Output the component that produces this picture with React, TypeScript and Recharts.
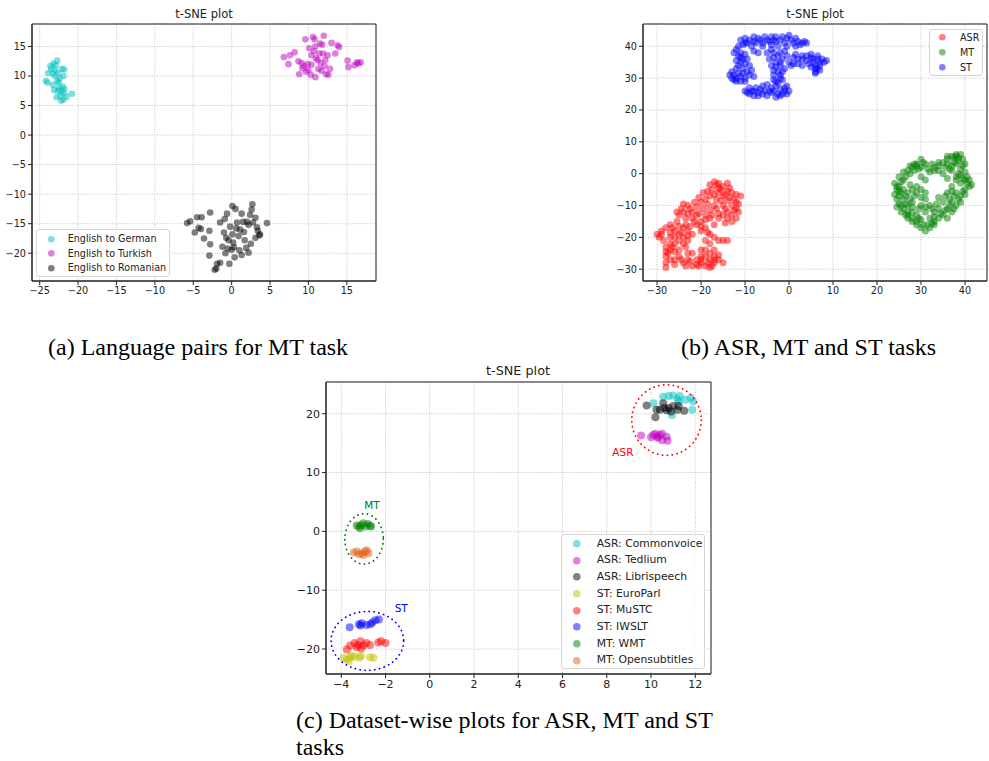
import React from "react";
import {
  ScatterChart,
  Scatter,
  XAxis,
  YAxis,
  CartesianGrid,
  ReferenceArea,
  ReferenceDot,
  Legend,
} from "recharts";

type Pt = [number, number];

// ---------- (a) language pairs ----------
const langTicksX = [-25, -20, -15, -10, -5, 0, 5, 10, 15];
const langTicksY = [-20, -15, -10, -5, 0, 5, 10, 15];
const langDomainX: [number, number] = [-26.0, 18.8];
const langDomainY: [number, number] = [-24.7, 18.8];

const enDe: Pt[] = [
  [-22.7, 12.6], [-23.2, 12.1], [-23.6, 11.7], [-22.9, 11.8], [-23.5, 11.2], [-22.1, 11.2],
  [-21.8, 11.1], [-23.0, 11.0], [-23.9, 10.5], [-23.3, 10.4], [-22.6, 10.5], [-21.9, 10.0],
  [-24.2, 9.2], [-24.0, 8.9], [-22.7, 9.2], [-22.5, 8.9], [-23.3, 8.5], [-22.5, 8.0],
  [-22.0, 8.2], [-21.8, 7.8], [-22.6, 7.5], [-23.1, 7.6], [-22.2, 7.4], [-21.9, 7.1],
  [-20.8, 7.0], [-22.3, 6.6], [-21.5, 6.5], [-22.8, 6.4], [-21.9, 6.0], [-22.2, 5.8],
  [-23.0, 10.0], [-22.4, 9.6],
];
const enTr: Pt[] = [
  [6.8, 13.2], [7.4, 12.0], [7.6, 13.5], [8.2, 14.0], [8.7, 12.5], [8.8, 10.3], [9.1, 12.2],
  [9.4, 11.7], [9.6, 16.2], [9.7, 10.7], [9.9, 12.0], [10.1, 14.7], [10.3, 10.2], [10.4, 11.9],
  [10.4, 13.5], [10.6, 16.6], [10.8, 16.2], [10.9, 15.0], [10.9, 9.8], [11.0, 13.0], [11.2, 12.7],
  [11.4, 13.8], [11.5, 15.5], [11.6, 12.2], [11.7, 10.9], [11.9, 13.8], [12.0, 16.8], [12.1, 11.7],
  [12.3, 10.3], [12.5, 13.5], [12.6, 10.2], [12.8, 11.2], [13.0, 15.6], [13.5, 13.8], [13.8, 15.2],
  [14.0, 14.9], [15.1, 12.6], [15.2, 11.5], [16.0, 11.8], [16.3, 12.3], [16.5, 12.1], [16.8, 12.3],
  [10.0, 11.0], [11.3, 11.2], [12.2, 12.7], [9.2, 11.3], [10.7, 14.2], [11.8, 15.3],
];
const enRo: Pt[] = [
  [-5.8, -14.9], [-5.4, -14.6], [-4.8, -16.5], [-4.5, -13.9], [-4.3, -15.7], [-4.0, -15.9],
  [-3.9, -13.9], [-3.6, -17.5], [-2.8, -13.1], [-2.9, -16.2], [-2.8, -18.5], [-2.9, -20.4],
  [-2.0, -22.6], [-1.5, -21.6], [-1.2, -18.9], [-1.5, -14.8], [-1.0, -16.5], [-0.9, -14.2],
  [-0.8, -20.0], [-0.7, -17.4], [-0.6, -13.3], [-0.5, -19.2], [-0.3, -21.8], [-0.2, -15.5],
  [0.1, -12.0], [0.1, -16.8], [0.2, -18.2], [0.3, -19.0], [0.5, -12.5], [0.4, -20.7],
  [0.6, -15.8], [0.7, -14.8], [0.9, -17.1], [1.0, -19.5], [1.1, -16.0], [1.3, -13.3],
  [1.3, -20.3], [1.5, -14.7], [1.7, -17.8], [1.9, -19.1], [2.0, -14.7], [2.2, -15.2],
  [2.2, -19.9], [2.4, -13.5], [2.5, -18.4], [2.6, -12.6], [2.7, -11.7], [2.8, -14.8],
  [3.1, -14.0], [3.1, -17.4], [3.3, -15.6], [3.4, -16.2], [3.6, -17.0], [3.7, -16.8],
  [4.6, -14.9], [-2.2, -22.8], [-0.4, -17.8], [1.6, -16.4], [-1.9, -21.8], [0.0, -19.4],
];

// ---------- (b) tasks ----------
const taskTicksX = [-30, -20, -10, 0, 10, 20, 30, 40];
const taskTicksY = [-30, -20, -10, 0, 10, 20, 30, 40];
const taskDomainX: [number, number] = [-33.2, 45.0];
const taskDomainY: [number, number] = [-33.7, 47.0];

const asrTask: Pt[] = [
  [-17, -2.5], [-16, -3], [-18, -3.5], [-15, -4], [-17.5, -5], [-14, -5.5], [-16, -6], [-13, -6],
  [-15, -7], [-11, -7], [-12.5, -8], [-14, -8.5], [-16.5, -8], [-18, -7], [-19, -8], [-20, -9],
  [-13, -10], [-15, -10], [-17, -10], [-12, -11], [-11.5, -12], [-14, -12], [-16, -12.5], [-18, -11.5],
  [-19.5, -11], [-21, -10.5], [-22, -12], [-23, -10], [-24, -12], [-25, -13], [-24, -9.5], [-22.5, -11],
  [-14, -14], [-16, -14], [-18, -14], [-20, -15], [-17, -16], [-13, -15], [-15, -21], [-14, -21],
  [-19, -21], [-18, -22], [-19, -24], [-17, -26], [-16, -27], [-17, -28], [-18, -27], [-19, -29],
  [-20, -28], [-21, -27], [-22, -25], [-23, -27], [-22, -29], [-24, -28], [-25, -26], [-26, -27],
  [-27, -24], [-28, -23], [-28, -26], [-28, -28], [-28, -29.5], [-27, -20], [-26, -18], [-25, -19],
  [-24, -17], [-23, -18], [-24, -20], [-25, -21], [-26, -22], [-28, -17], [-29, -18], [-30, -19],
  [-29.5, -20], [-27, -16], [-25, -16.5], [-23, -19.5], [-21, -16], [-20, -18], [-20, -24],
  [-25, -24], [-23, -25], [-27, -18.5], [-24, -22], [-26, -20], [-19, -17], [-18, -19],
  [-20, -26], [-15, -28], [-17, -24], [-22, -14], [-19, -13], [-13, -13], [-12, -9], [-16, -4.5],
  [-14.5, -6.5], [-18.5, -5.5], [-21, -13], [-26, -24.5], [-20.5, -29], [-18, -29.5], [-23.5, -23],
  [-16.5, -3.5], [-15.5, -5], [-13.5, -4.5], [-12, -6.5], [-11.5, -9.5], [-13.5, -7.5], [-15.5, -8.5],
  [-17, -6.5], [-18.5, -9.5], [-20.5, -7.5], [-21.5, -9], [-12.5, -11.5], [-14.5, -11], [-16.5, -11],
  [-17.5, -13], [-15, -13], [-12, -14], [-14.5, -15.5], [-19, -14.5], [-20.5, -12.5], [-23, -12.5],
  [-24.5, -11], [-25.5, -12], [-23.5, -14], [-21.5, -15], [-22.5, -16.5], [-20, -16.5], [-18.5, -18.5],
  [-17, -20], [-16, -21], [-22, -19], [-23, -21], [-26.5, -23], [-27, -22], [-27.5, -25], [-27, -27],
  [-26, -28.5], [-24.5, -27], [-23.5, -29], [-22.5, -27.5], [-21, -28.5], [-20, -27], [-19, -26],
  [-18, -25], [-17, -27], [-16, -25.5], [-18.5, -28], [-17.5, -29], [-29, -19], [-28.5, -21],
  [-26.5, -17], [-25.5, -15], [-24.5, -18.5], [-23.5, -16], [-28, -24.5], [-14, -3], [-19.5, -6],
];
const mtTask: Pt[] = [
  [27, 1], [28, 2], [29, 3], [30, 4.5], [29, 2.5], [30, 2], [31, 3], [27.5, 0], [26, 0.5], [25, -1],
  [32, 0.5], [33, 2], [34, 2.5], [35, 3.5], [36, 4.5], [37, 5.5], [38, 6], [39, 6], [38.5, 4], [37.5, 3.5],
  [36, 3], [39.5, 2.5], [40, 0.5], [39, -0.5], [38, -1], [34, 1], [35, 0], [24, -3], [24.5, -5], [25, -4],
  [25.5, -6], [24, -6.5], [24.5, -8], [25, -9.5], [26, -8], [26, -11], [25.5, -12], [26.5, -13], [27, -14],
  [27, -10], [28, -12], [28, -9], [27, -6], [27.5, -3.5], [28, -5], [29, -4], [28.5, -7], [26, -2],
  [28, -15], [29, -16], [30, -17], [31, -18], [32, -17], [33, -15], [34, -14], [35, -13], [32, -14],
  [30, -14.5], [29, -13], [31, -12], [33, -12], [30, -10], [31, -8], [32, -10], [34, -11], [35, -9],
  [29.5, -11], [36, -11], [37, -9], [37.5, -7], [38, -6], [37, -4], [38, -2], [39, -3], [40, -2],
  [41, -4], [40, -5], [39, -7], [38, -10], [37, -12], [36, -14], [36, -6], [36, -1.5],
  [40.5, -1], [41.5, -3.5], [30, -1], [31, -2], [30, -5], [31, -6], [28.5, 3], [37, 1], [38.5, 5],
  [33, -16], [27, -12], [39.5, -5.5], [25, -7], [29, -15],
  [27.5, 2.5], [28.5, 1], [29.5, 1.5], [30.5, 3.5], [31.5, 1.5], [26.5, -1], [25.5, -2.5], [24.5, -4],
  [26, -5], [25, -5.5], [26.5, -7], [25.5, -10], [24.5, -10.5], [26.5, -9.5], [27.5, -8], [28, -10.5],
  [27, -13], [28, -14], [29.5, -14], [30.5, -16], [31.5, -16], [32.5, -15.5], [33, -13.5], [34.5, -12.5],
  [35.5, -11.5], [36.5, -10], [37.5, -11], [38.5, -8], [39, -9], [40, -6.5], [40.5, -3], [41, -2],
  [39.5, -1.5], [38.5, 0], [39, 1.5], [40, 3], [38, 3], [37, 2.5], [36.5, 1.5], [35.5, 2], [33, 1],
  [32.5, 3], [34, 3.5], [36, 5.5], [37.5, 5], [38, 5.5], [39.5, 4.5], [37, -5.5], [35.5, -7],
  [36.5, -8], [29, -6], [30, -7.5], [31, -10.5], [32.5, -11], [33.5, -9.5], [34, -7.5],
];
const stTask: Pt[] = [
  [-11, 42], [-10.5, 40.5], [-10, 41], [-9, 42], [-8, 41.5], [-7, 42.5], [-6.5, 42], [-6, 41], [-5, 42],
  [-4, 43], [-3.5, 42], [-3, 41.5], [-2, 42], [-1, 41], [0, 43.5], [0.5, 42], [1, 41], [2, 41.5], [3, 41],
  [4, 41], [-8.5, 40], [-6, 40], [-4, 40.5], [-2.5, 40], [-0.5, 40], [1.5, 40], [-12, 39], [-11, 38],
  [-11.5, 37], [-10, 37.5], [-10.5, 36], [-11, 35], [-10, 34.5], [-12, 33], [-13, 32], [-12.5, 31],
  [-13, 30], [-12, 30], [-11, 30.5], [-10, 30], [-11, 29], [-9.5, 32], [-12, 29], [-9, 31], [-9, 34],
  [-9.5, 36], [-10, 26], [-9, 25], [-8.5, 26], [-8, 24.5], [-7, 25.5], [-6, 25], [-5.5, 26], [-5, 24.5],
  [-4, 25.5], [-3, 24], [-2.5, 25], [-2, 26.5], [-1, 26], [-0.5, 27.5], [-1.5, 25], [-7.5, 27], [-6, 27.5],
  [-4, 27], [-3, 27.5], [-9, 27], [-5, 28], [-3, 29], [-2, 30], [-3.5, 31], [-2.5, 32], [-3, 33.5],
  [-2, 34], [-3, 35], [-1.5, 36], [-2.5, 37], [-3.5, 38], [-4, 39], [-1, 38.5], [-1, 33], [-4, 34],
  [-1.5, 29.5], [-4.5, 36], [0, 35], [1, 34.5], [2, 36], [3, 36], [4, 35.5], [5, 36.5], [5.5, 35],
  [6, 34], [6.5, 33], [6, 32], [7, 35], [7.5, 36], [8, 35], [6.5, 37], [5, 37.5], [6, 31.5], [4, 37],
  [1, 36.5], [3, 34],
  [-10, 42.5], [-9.5, 41], [-8, 43], [-7.5, 41], [-5.5, 43], [-4.5, 41.5], [-3, 43], [-1.5, 43],
  [-0.5, 42.5], [1.5, 42.5], [2.5, 40.5], [3.5, 41.5], [-11.5, 40], [-12.5, 38], [-11, 36.5], [-12, 35.5],
  [-11.5, 34], [-10.5, 33], [-13.5, 31], [-11.5, 31.5], [-10.5, 31.5], [-12.5, 29.5], [-10, 29],
  [-8.5, 32.5], [-8, 30.5], [-9.5, 25.5], [-8, 26], [-7, 24.5], [-6.5, 26.5], [-4.5, 26], [-3.5, 26],
  [-2, 24.5], [-1, 27], [0, 26], [-0.5, 25], [-2.5, 28.5], [-3.5, 29.5], [-2, 31], [-1.5, 32],
  [-3.5, 32.5], [-2, 35], [-3.5, 36.5], [-2, 38], [-0.5, 37], [-5, 38], [0.5, 34], [2, 34.5], [3, 37],
  [4.5, 34.5], [5, 33.5], [6, 33], [7, 34], [7, 32.5], [6.5, 36], [8.5, 35.5], [5.5, 36], [1.5, 37.5],
  [-7, 38], [-8, 38.5],
];

// ---------- (c) datasets ----------
const dsTicksX = [-4, -2, 0, 2, 4, 6, 8, 10, 12];
const dsTicksY = [-20, -10, 0, 10, 20];
const dsDomainX: [number, number] = [-4.69, 12.71];
const dsDomainY: [number, number] = [-24.25, 25.4];

const commonvoice: Pt[] = [
  [10.11, 21.8], [10.8, 23.0], [11.0, 23.1], [11.3, 23.0], [11.55, 22.4], [11.8, 22.7], [11.9, 22.1],
  [11.86, 20.7], [11.25, 22.1], [10.95, 19.8], [10.55, 22.9], [11.2, 22.5],
];
const tedlium: Pt[] = [
  [9.55, 16.3], [10.0, 16.0], [10.2, 16.6], [10.4, 16.4], [10.5, 15.5], [10.7, 16.1], [10.3, 15.9],
  [10.75, 15.4], [10.1, 16.4], [10.5, 16.6], [10.3, 16.1],
];
const librispeech: Pt[] = [
  [9.8, 21.4], [10.2, 19.4], [10.4, 20.7], [10.6, 21.0], [10.8, 21.0], [11.0, 21.3], [11.2, 20.7],
  [10.7, 20.6], [11.5, 20.5], [10.55, 21.8], [10.25, 20.7], [10.9, 20.4], [11.25, 21.3],
];
const europarl: Pt[] = [
  [-3.9, -21.5], [-3.75, -21.8], [-3.6, -21.4], [-3.66, -22.1], [-3.4, -21.3], [-3.18, -21.5],
  [-3.1, -21.2], [-2.7, -21.4], [-2.55, -21.5], [-3.53, -21.1],
];
const mustc: Pt[] = [
  [-3.75, -20.1], [-3.6, -19.4], [-3.4, -19.0], [-3.25, -19.3], [-3.13, -18.7], [-3.0, -19.4],
  [-2.86, -19.0], [-2.7, -19.3], [-2.33, -18.9], [-2.2, -18.7], [-2.0, -19.0], [-3.3, -19.7], [-3.1, -19.9],
];
const iwslt: Pt[] = [
  [-3.62, -16.3], [-3.2, -15.8], [-3.07, -15.6], [-2.85, -15.9], [-2.6, -15.5], [-2.46, -15.1],
  [-2.3, -15.0], [-3.13, -16.0], [-2.68, -15.8],
];
const wmt: Pt[] = [
  [-3.3, 1.0], [-3.1, 1.1], [-2.9, 0.85], [-2.7, 0.95], [-3.15, 0.55], [-2.8, 1.25], [-2.65, 0.85],
  [-3.2, 0.85], [-3.0, 1.4],
];
const opensubtitles: Pt[] = [
  [-3.44, -3.57], [-3.3, -3.4], [-3.07, -3.7], [-2.92, -3.4], [-2.77, -3.7], [-3.2, -3.9], [-3.0, -4.0],
  [-2.85, -3.2],
];

// task groups in (c): centre, half axes (data units), label position
const groupNames = ["ASR", "MT", "ST"];
const groupColors = ["#ff0000", "#007a00", "#0000ff"];
const groupCentres: Pt[] = [[10.7, 18.93], [-2.97, -1.28], [-2.82, -18.62]];
const groupRadii: Pt[] = [[1.57, 6.0], [0.87, 4.28], [1.64, 5.01]];
const groupLabels: Pt[] = [[8.73, 13.49], [-2.61, 4.41], [-1.29, -13.1]];

const FONT = "DejaVu Sans, Verdana, sans-serif";
const rows = (pts: Pt[]) => pts.map(([x, y]) => ({ x, y }));
const fmt = (v: number) => String(v).replace("-", "\u2212");

const dot = (r: number, color: string, op = 0.5) => (p: any) =>
  <circle cx={p.cx} cy={p.cy} r={r} fill={color} fillOpacity={op} />;

type Item = { label: string; color: string };

function legendContent(items: Item[], o: { w: number; h: number; first: number; step: number; mx: number; tx: number; fs: number; r: number }) {
  return () => (
    <div
      style={{
        position: "relative",
        width: o.w,
        height: o.h,
        boxSizing: "border-box",
        border: "1px solid #d6d6d6",
        borderRadius: 3,
        background: "rgba(255,255,255,0.8)",
        fontFamily: FONT,
        fontSize: o.fs,
        color: "#222",
      }}
    >
      {items.map((it, i) => (
        <React.Fragment key={it.label}>
          <svg
            width={o.r * 2 + 2}
            height={o.r * 2 + 2}
            style={{ position: "absolute", left: o.mx - o.r - 1, top: o.first + i * o.step - o.r - 1 }}
          >
            <circle cx={o.r + 1} cy={o.r + 1} r={o.r} fill={it.color} fillOpacity={0.5} />
          </svg>
          <span
            style={{
              position: "absolute",
              left: o.tx,
              top: o.first + i * o.step,
              transform: "translateY(-50%)",
              lineHeight: 1,
              whiteSpace: "nowrap",
            }}
          >
            {it.label}
          </span>
        </React.Fragment>
      ))}
    </div>
  );
}

const tickStyle = (fs: number) => ({ fontSize: fs, fill: "#222", fontFamily: FONT });

const langItems: Item[] = [
  { label: "English to German", color: "#00bfbf" },
  { label: "English to Turkish", color: "#bf00bf" },
  { label: "English to Romanian", color: "#000000" },
];
const taskItems: Item[] = [
  { label: "ASR", color: "#ff0000" },
  { label: "MT", color: "#008000" },
  { label: "ST", color: "#0000ff" },
];
const dsItems: Item[] = [
  { label: "ASR: Commonvoice", color: "#00bfbf" },
  { label: "ASR: Tedlium", color: "#bf00bf" },
  { label: "ASR: Librispeech", color: "#000000" },
  { label: "ST: EuroParl", color: "#bfbf00" },
  { label: "ST: MuSTC", color: "#ff0000" },
  { label: "ST: IWSLT", color: "#0000ff" },
  { label: "MT: WMT", color: "#008000" },
  { label: "MT: Opensubtitles", color: "#e0601a" },
];
const dsSeries: Pt[][] = [commonvoice, tedlium, librispeech, europarl, mustc, iwslt, wmt, opensubtitles];

const caption: React.CSSProperties = {
  position: "absolute",
  fontFamily: "Liberation Serif, Times New Roman, serif",
  fontSize: 24,
  color: "#000",
  whiteSpace: "nowrap",
  lineHeight: "27px",
};
const title = (fs: number): React.CSSProperties => ({
  position: "absolute",
  fontFamily: FONT,
  fontSize: fs,
  color: "#222",
  transform: "translate(-50%, -50%)",
  whiteSpace: "nowrap",
});

export default function App() {
  // plot (c) pixel scale for ellipse radii
  const cW = 385;
  const cH = 292;
  const pxX = cW / (dsDomainX[1] - dsDomainX[0]);
  const pxY = cH / (dsDomainY[1] - dsDomainY[0]);

  return (
    <div style={{ position: "absolute", left: 0, top: 0, width: 989, height: 761, background: "#fff", overflow: "hidden" }}>
      {/* (a) */}
      <div style={{ position: "absolute", left: 0, top: 0 }}>
        <ScatterChart width={390} height={310} margin={{ top: 24, right: 14, left: 0, bottom: 0 }}>
          <CartesianGrid stroke="#c4c4c4" strokeDasharray="1 1.5" />
          <XAxis type="number" dataKey="x" domain={langDomainX} ticks={langTicksX} allowDataOverflow
            height={29} tick={tickStyle(9.7)} tickFormatter={fmt} stroke="#222" tickSize={4} />
          <YAxis type="number" dataKey="y" domain={langDomainY} ticks={langTicksY} allowDataOverflow
            width={32} tick={tickStyle(9.7)} tickFormatter={fmt} stroke="#222" tickSize={4} />
          <ReferenceArea x1={langDomainX[0]} x2={langDomainX[1]} y1={langDomainY[0]} y2={langDomainY[1]}
            fill="none" stroke="#222" strokeOpacity={1} ifOverflow="visible" />
          <Scatter data={rows(enDe)} shape={dot(3.3, "#00bfbf")} isAnimationActive={false} />
          <Scatter data={rows(enTr)} shape={dot(3.3, "#bf00bf")} isAnimationActive={false} />
          <Scatter data={rows(enRo)} shape={dot(3.3, "#000000")} isAnimationActive={false} />
          <Legend layout="horizontal" verticalAlign="middle"
            wrapperStyle={{ left: 36, top: 229, width: 134, height: 48 }}
            content={legendContent(langItems, { w: 134, h: 48, first: 9, step: 14.5, mx: 14, tx: 30.7, fs: 9.6, r: 3.3 })} />
        </ScatterChart>
        <div style={{ ...title(11.5), left: 204, top: 14 }}>t-SNE plot</div>
      </div>

      {/* (b) */}
      <div style={{ position: "absolute", left: 600, top: 0 }}>
        <ScatterChart width={389} height={310} margin={{ top: 24, right: 2, left: 0, bottom: 0 }}>
          <CartesianGrid stroke="#c4c4c4" strokeDasharray="1 1.5" />
          <XAxis type="number" dataKey="x" domain={taskDomainX} ticks={taskTicksX} allowDataOverflow
            height={29} tick={tickStyle(9.7)} tickFormatter={fmt} stroke="#222" tickSize={4} />
          <YAxis type="number" dataKey="y" domain={taskDomainY} ticks={taskTicksY} allowDataOverflow
            width={43} tick={tickStyle(9.7)} tickFormatter={fmt} stroke="#222" tickSize={4} />
          <ReferenceArea x1={taskDomainX[0]} x2={taskDomainX[1]} y1={taskDomainY[0]} y2={taskDomainY[1]}
            fill="none" stroke="#222" strokeOpacity={1} ifOverflow="visible" />
          <Scatter data={rows(asrTask)} shape={dot(3.5, "#ff0000")} isAnimationActive={false} />
          <Scatter data={rows(mtTask)} shape={dot(3.5, "#008000")} isAnimationActive={false} />
          <Scatter data={rows(stTask)} shape={dot(3.5, "#0000ff")} isAnimationActive={false} />
          <Legend layout="horizontal" verticalAlign="middle"
            wrapperStyle={{ left: 329, top: 29, width: 54, height: 47 }}
            content={legendContent(taskItems, { w: 54, h: 47, first: 7.7, step: 15, mx: 12.7, tx: 30, fs: 9.6, r: 3.3 })} />
        </ScatterChart>
        <div style={{ ...title(11.5), left: 215, top: 14 }}>t-SNE plot</div>
      </div>

      {/* (c) */}
      <div style={{ position: "absolute", left: 280, top: 360 }}>
        <ScatterChart width={440} height={340} margin={{ top: 22, right: 9, left: 0, bottom: 0 }}>
          <CartesianGrid stroke="#c4c4c4" strokeDasharray="1 1.5" />
          <XAxis type="number" dataKey="x" domain={dsDomainX} ticks={dsTicksX} allowDataOverflow
            height={26} tick={tickStyle(11)} tickFormatter={fmt} stroke="#222" tickSize={4} />
          <YAxis type="number" dataKey="y" domain={dsDomainY} ticks={dsTicksY} allowDataOverflow
            width={46} tick={tickStyle(11)} tickFormatter={fmt} stroke="#222" tickSize={4} />
          <ReferenceArea x1={dsDomainX[0]} x2={dsDomainX[1]} y1={dsDomainY[0]} y2={dsDomainY[1]}
            fill="none" stroke="#222" strokeOpacity={1} ifOverflow="visible" />
          {dsSeries.map((s, i) => (
            <Scatter key={dsItems[i].label} data={rows(s)} shape={dot(4, dsItems[i].color)} isAnimationActive={false} />
          ))}
          {groupNames.map((g, i) => (
            <ReferenceDot key={g} x={groupCentres[i][0]} y={groupCentres[i][1]} ifOverflow="visible"
              shape={(p: any) => (
                <ellipse cx={p.cx} cy={p.cy} rx={groupRadii[i][0] * pxX} ry={groupRadii[i][1] * pxY}
                  fill="none" stroke={groupColors[i]} strokeWidth={1.7} strokeDasharray="0.3 4.6" strokeLinecap="round" />
              )} />
          ))}
          {groupNames.map((g, i) => (
            <ReferenceDot key={g + "-label"} x={groupLabels[i][0]} y={groupLabels[i][1]} ifOverflow="visible"
              shape={(p: any) => (
                <text x={p.cx} y={p.cy} textAnchor="middle" dominantBaseline="central"
                  fontFamily={FONT} fontSize={10.5} fill={groupColors[i]}>{g}</text>
              )} />
          ))}
          <Legend layout="horizontal" verticalAlign="middle"
            wrapperStyle={{ left: 281, top: 174, width: 144, height: 135 }}
            content={legendContent(dsItems, { w: 144, h: 135, first: 8.7, step: 16.66, mx: 14.7, tx: 34.7, fs: 10.8, r: 3.8 })} />
        </ScatterChart>
        <div style={{ ...title(12.8), left: 238, top: 10 }}>t-SNE plot</div>
      </div>

      <div style={{ ...caption, left: 48, top: 334 }}>(a) Language pairs for MT task</div>
      <div style={{ ...caption, left: 681, top: 334 }}>(b) ASR, MT and ST tasks</div>
      <div style={{ ...caption, left: 296, top: 707 }}>
        (c) Dataset-wise plots for ASR, MT and ST
        <br />
        tasks
      </div>
    </div>
  );
}
